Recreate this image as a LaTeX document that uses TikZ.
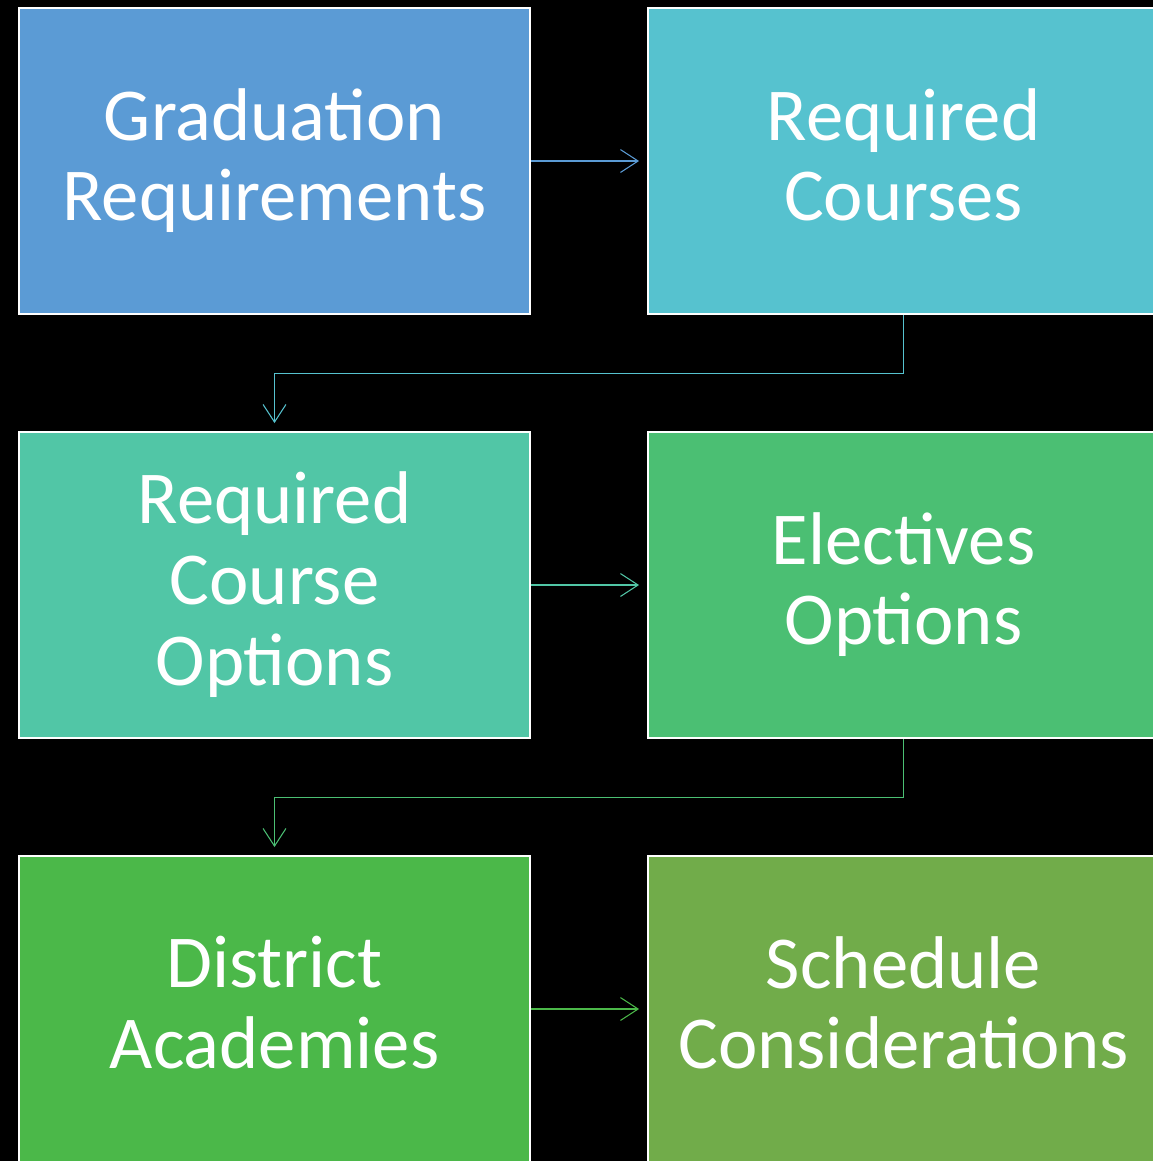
\documentclass[tikz,border=0pt]{standalone}
\usepackage{fontspec}
\setmainfont{Carlito}
\usetikzlibrary{arrows.meta}

\definecolor{gradblue}{RGB}{91,155,213}
\definecolor{reqcyan}{RGB}{86,194,207}
\definecolor{optteal}{RGB}{81,198,166}
\definecolor{elecgreen}{RGB}{75,191,115}
\definecolor{acadgreen}{RGB}{75,184,73}
\definecolor{schedgreen}{RGB}{113,172,74}

\tikzset{
  stepbox/.style={draw=white,line width=1.2pt,text=white,align=center,
    minimum width=\boxwidth*0.02cm,minimum height=\boxheight*0.02cm,
    inner sep=0pt,font=\fontsize{42.5}{46}\selectfont,
    execute at end node={\vphantom{g}}},
  flow/.style={line width=0.6pt,-{Straight Barb[length=10pt,width=13pt]},shorten >=4.5pt}
}

\begin{document}
\begin{tikzpicture}[x=0.02cm,y=-0.02cm]
    \pgfmathsetmacro{\boxwidth}{511}
    \pgfmathsetmacro{\boxheight}{306}
    \pgfmathsetmacro{\leftcol}{274.5}
    \pgfmathsetmacro{\rightcol}{903.5}
    \fill[black] (0,0) rectangle (1153,1161);
    \useasboundingbox (0,0) rectangle (1153,1161);
    \clip (0,0) rectangle (1153,1161);
    % boxes
    \node[stepbox,fill=gradblue] (grad) at (\leftcol,161) {Graduation\\Requirements};
    \node[stepbox,fill=reqcyan] (reqcourses) at (\rightcol,161) {Required\\Courses};
    \node[stepbox,fill=optteal] (reqopts) at (\leftcol,585) {Required\\Course\\Options};
    \node[stepbox,fill=elecgreen] (electives) at (\rightcol,585) {Electives\\Options};
    \node[stepbox,fill=acadgreen] (academies) at (\leftcol,1009) {District\\Academies};
    \node[stepbox,fill=schedgreen] (schedule) at (\rightcol,1009) {Schedule\\Considerations};
    % connectors
    \draw[flow,gradblue] (grad.east) -- (reqcourses.west);
    \draw[flow,reqcyan] (reqcourses.south) -- ++(0,58) -| (reqopts.north);
    \draw[flow,optteal] (reqopts.east) -- (electives.west);
    \draw[flow,elecgreen] (electives.south) -- ++(0,58) -| (academies.north);
    \draw[flow,acadgreen] (academies.east) -- (schedule.west);
\end{tikzpicture}
\end{document}
